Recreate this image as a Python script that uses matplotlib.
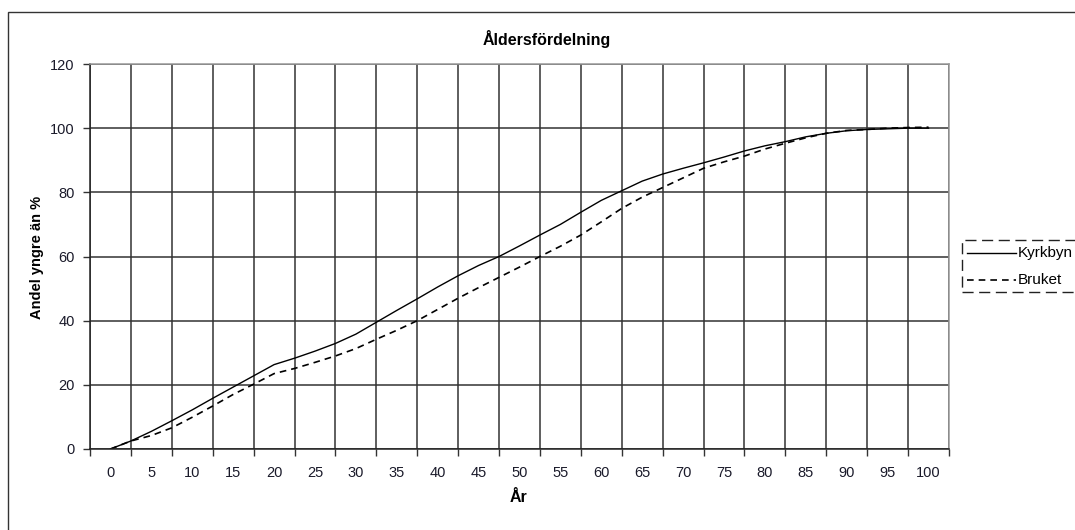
import matplotlib
matplotlib.use("Agg")
import matplotlib.pyplot as plt
from matplotlib.patches import Rectangle
from matplotlib.lines import Line2D
import numpy as np

plt.rcParams['font.family'] = ['Liberation Sans', 'DejaVu Sans']

title = "Åldersfördelning"
xlabel = "År"
ylabel = "Andel yngre än %"
series_names = ["Kyrkbyn", "Bruket"]

ages = [0, 2.5, 5, 7.5, 10, 12.5, 15, 17.5, 20, 22.5, 25, 27.5, 30, 32.5, 35, 37.5,
        40, 42.5, 45, 47.5, 50, 52.5, 55, 57.5, 60, 62.5, 65, 67.5, 70, 72.5, 75,
        77.5, 80, 82.5, 85, 87.5, 90, 92.5, 95, 97.5, 100]
kyrkbyn = [0, 2.5, 5.5, 8.8, 12.2, 15.8, 19.3, 22.8, 26.3, 28.3, 30.5, 32.9, 35.8,
           39.5, 43.2, 46.8, 50.5, 54.0, 57.2, 60.0, 63.3, 66.7, 70.0, 73.8, 77.5,
           80.5, 83.5, 85.7, 87.5, 89.2, 91.0, 92.9, 94.5, 95.8, 97.3, 98.4, 99.2,
           99.6, 99.8, 100.0, 100.0]
bruket = [0, 2.5, 4.2, 6.6, 9.9, 13.4, 17.0, 20.2, 23.5, 25.1, 27.0, 29.0, 31.3,
          34.2, 37.0, 40.0, 43.5, 47.0, 50.3, 53.5, 56.7, 60.0, 63.2, 66.7, 70.8,
          75.0, 78.5, 81.5, 84.5, 87.5, 89.5, 91.3, 93.5, 95.3, 97.0, 98.4, 99.3,
          99.6, 100.0, 100.2, 100.3]

xticks = list(range(0, 101, 5))
yticks = list(range(0, 121, 20))

W, H = 1075, 530
fig = plt.figure(figsize=(W / 100, H / 100), dpi=100)
fig.patch.set_facecolor('white')

# chart area border
fig.add_artist(Rectangle((8 / W, -0.1), 1.2, (H - 12) / H + 0.1, transform=fig.transFigure,
                         fill=False, edgecolor='#333333', linewidth=1.0))

ax = fig.add_axes([90 / W, 1 - 449 / H, (949 - 90) / W, (449 - 64) / H])
ax.plot(ages, kyrkbyn, color='black', linewidth=1.0, linestyle='-', label=series_names[0])
ax.plot(ages, bruket, color='black', linewidth=1.2, linestyle=(0, (4, 3)), label=series_names[1])

ax.set_xlim(-2.5, 102.5)
ax.set_ylim(0, 120)
ax.set_xticks(xticks)
ax.set_xticklabels([str(t) for t in xticks], fontsize=10.5, color='#1a1a2a')
ax.set_xticks(np.arange(-2.5, 103, 5), minor=True)
ax.set_yticks(yticks)
ax.set_yticklabels([str(t) for t in yticks], fontsize=10.5, color='#1a1a2a')
ax.tick_params(axis='x', which='major', length=0, pad=12)
ax.tick_params(axis='x', which='minor', length=5, width=1.0, color='#333333', direction='out')
ax.tick_params(axis='y', which='major', length=5, width=1.0, color='#333333', pad=6)
ax.grid(True, axis='x', which='minor', color='#333333', linewidth=1.1)
ax.grid(True, axis='y', which='major', color='#333333', linewidth=1.1)
ax.grid(False, axis='x', which='major')
ax.set_axisbelow(True)
for s in ['left', 'bottom']:
    ax.spines[s].set_color('#222222')
    ax.spines[s].set_linewidth(1.1)
for s in ['top', 'right']:
    ax.spines[s].set_color('#999999')
    ax.spines[s].set_linewidth(1.1)

fig.text(547 / W, 1 - 39 / H, title, ha='center', va='center', fontsize=11.5, fontweight='bold')
fig.text(518.5 / W, 1 - 497 / H, xlabel, ha='center', va='center', fontsize=11.5, fontweight='bold')
fig.text(37 / W, 1 - 257 / H, ylabel, ha='center', va='center', rotation=90, fontsize=10.5, fontweight='bold')

# legend (cut off at right edge, as in the reference)
lx0, ly0, ly1 = 962, 240, 292
fig.add_artist(Rectangle((lx0 / W, 1 - ly1 / H), 0.2, (ly1 - ly0) / H, transform=fig.transFigure,
                         fill=False, edgecolor='#222222', linewidth=1.0, linestyle=(0, (8, 4))))
fig.add_artist(Line2D([967 / W, 1016 / W], [1 - 253 / H, 1 - 253 / H], transform=fig.transFigure,
                      color='black', linewidth=1.0))
fig.add_artist(Line2D([967 / W, 1016 / W], [1 - 280 / H, 1 - 280 / H], transform=fig.transFigure,
                      color='black', linewidth=1.2, linestyle=(0, (4, 3))))
fig.text(1018 / W, 1 - 253 / H, series_names[0], ha='left', va='center', fontsize=11)
fig.text(1018 / W, 1 - 280 / H, series_names[1], ha='left', va='center', fontsize=11)

fig.savefig('out.png', dpi=100)
